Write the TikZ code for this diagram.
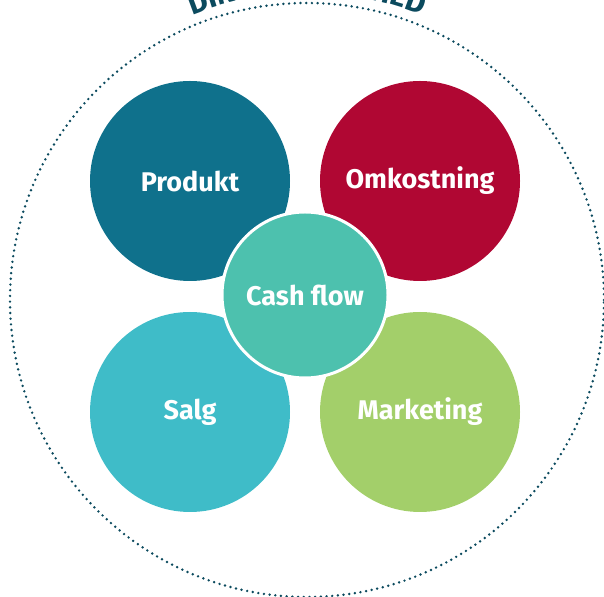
\documentclass[tikz,border=0pt]{standalone}
\usepackage{fontspec}
\setmainfont{Fira Sans}
\usetikzlibrary{decorations.text,calc}
\definecolor{ringcol}{HTML}{0B4A5E}
\definecolor{produktcol}{HTML}{0F718C}
\definecolor{omkostcol}{HTML}{B00733}
\definecolor{salgcol}{HTML}{3FBCC8}
\definecolor{marketcol}{HTML}{A3CF6A}
\definecolor{cashcol}{HTML}{4DC1AE}
\tikzset{
  bubble/.style={circle, minimum size=200pt, inner sep=0pt, text=white,
    font=\fontsize{27}{30}\selectfont\bfseries},
  hub/.style={circle, minimum size=166pt, inner sep=0pt, text=white,
    draw=white, line width=3pt,
    font=\fontsize{27}{30}\selectfont\bfseries},
}
\begin{document}
\begin{tikzpicture}[x=1pt,y=1pt]
  \useasboundingbox (0,0) rectangle (604,596);
  % outer dotted ring
  \coordinate (mid) at (307,296);
  \draw[ringcol, line width=2.7pt, line cap=round, dash pattern=on 0pt off 5.7pt]
    (mid) circle[radius=297];
  % curved title above the ring
  \path[decorate, decoration={text along path, text align=center,
      text={|\fontsize{30}{30}\selectfont\bfseries\color{ringcol}|DIN VIRKSOMHED}}]
    ($(mid)+(114:307)$) arc[start angle=114, end angle=66, radius=307];
  % four business areas
  \node[bubble, fill=produktcol] (produkt) at (190,415) {Produkt};
  \node[bubble, fill=omkostcol] (omkost) at (420,415) {Omkostning};
  \node[bubble, fill=salgcol] (salg) at (190,184) {Salg};
  \node[bubble, fill=marketcol] (market) at (420,184) {Marketing};
  % centre
  \node[hub, fill=cashcol] (cash) at (305,301) {Cash flow};
\end{tikzpicture}
\end{document}
